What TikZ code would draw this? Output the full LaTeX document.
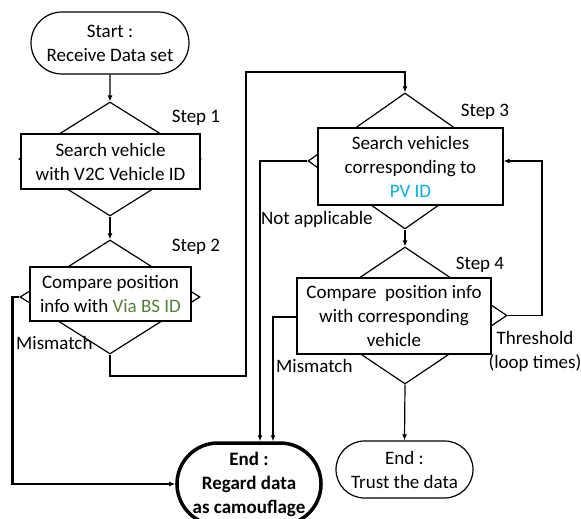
\documentclass[tikz,border=0pt]{standalone}
\usepackage{fontspec}
\setmainfont{Carlito}
\usetikzlibrary{shapes.geometric,shapes.misc,arrows.meta}
\definecolor{viagreen}{RGB}{84,130,53}
\definecolor{pvblue}{RGB}{0,176,240}
\begin{document}
\begin{tikzpicture}[x=1pt,y=-1pt,
  every node/.style={font=\fontsize{19}{24}\selectfont},
  dia/.style={diamond,draw,line width=1.2pt,inner sep=0pt},
  box/.style={rectangle,draw,fill=white,line width=1.2pt,inner sep=0pt,align=center},
  term/.style={rounded rectangle,draw,line width=1.2pt,inner sep=0pt,align=center},
  conn/.style={line width=1.2pt,-{Latex[length=6pt,width=5pt]}},
  thickconn/.style={line width=2.2pt,-{Latex[length=6pt,width=5pt]}},
  lbl/.style={inner sep=0pt}]
\useasboundingbox (0,0) rectangle (581,519);

% terminals
\node[term,minimum width=158pt,minimum height=62pt] (start) at (110,43) {Start :\\Receive Data set};
\node[term,line width=3.5pt,minimum width=138pt,minimum height=82pt,font=\fontsize{19}{24}\selectfont\bfseries] (endc) at (249,484) {End :\\Regard data\\as camouflage};
\node[term,minimum width=137pt,minimum height=57pt] (endt) at (404.5,469.5) {End :\\Trust the data};

% diamonds
\node[dia,minimum width=182pt,minimum height=114pt] (d1) at (110,159) {};
\node[dia,minimum width=180pt,minimum height=114pt] (d2) at (110,297) {};
\node[dia,minimum width=194pt,minimum height=136pt] (d3) at (405,161) {};
\node[dia,minimum width=204pt,minimum height=137pt] (d4) at (405,315.5) {};

% boxes
\node[box,minimum width=179pt,minimum height=55pt] (b1) at (110.5,161.5) {Search vehicle\\with V2C Vehicle ID};
\node[box,minimum width=161pt,minimum height=54pt] (b2) at (110.5,294) {Compare position\\info with \textcolor{viagreen}{Via BS ID}};
\node[box,minimum width=185pt,minimum height=77pt] (b3) at (410.5,166.5) {Search vehicles\\corresponding to\\\textcolor{pvblue}{PV ID}};
\node[box,minimum width=194pt,minimum height=76pt] (b4) at (394,316) {Compare\ \ position info\\with corresponding\\vehicle};

% labels
\node[lbl] (s1) at (196,118) {Step 1};
\node[lbl] (s2) at (196,247) {Step 2};
\node[lbl] (s3) at (485,112) {Step 3};
\node[lbl] (s4) at (480,265) {Step 4};
\node[lbl,anchor=west] (na) at (261,219) {Not applicable};
\node[lbl,anchor=west] (mm1) at (16,343) {Mismatch};
\node[lbl,anchor=west] (mm2) at (276,366) {Mismatch};
\node[lbl,align=center] (thr) at (535,351) {Threshold\\(loop times)};

% coordinates
\coordinate (c1) at (246,376);
\coordinate (c2) at (246,72);
\coordinate (c3) at (542,315.5);

% connectors
\draw[conn] (start) -- (d1.north);
\draw[conn] (d1.south) -- (d2.north);
\draw[conn] (d2.south) |- (c1) -- (c2) -| (d3.north);
\draw[conn] (d3.south) -- (d4.north);
\draw[conn] (d4.south) -- (endt.north);
\draw[conn] (d4.east) -- (c3) |- ([yshift=5.5pt]b3.east);
\draw[thickconn] (d3.west) -| ([xshift=11pt]endc.north);
\draw[thickconn] ([yshift=-1pt]b4.west) -| ([xshift=24pt]endc.north);
\draw[thickconn] (d2.west) -- ++(-7,0) |- (endc.west);
\end{tikzpicture}
\end{document}
